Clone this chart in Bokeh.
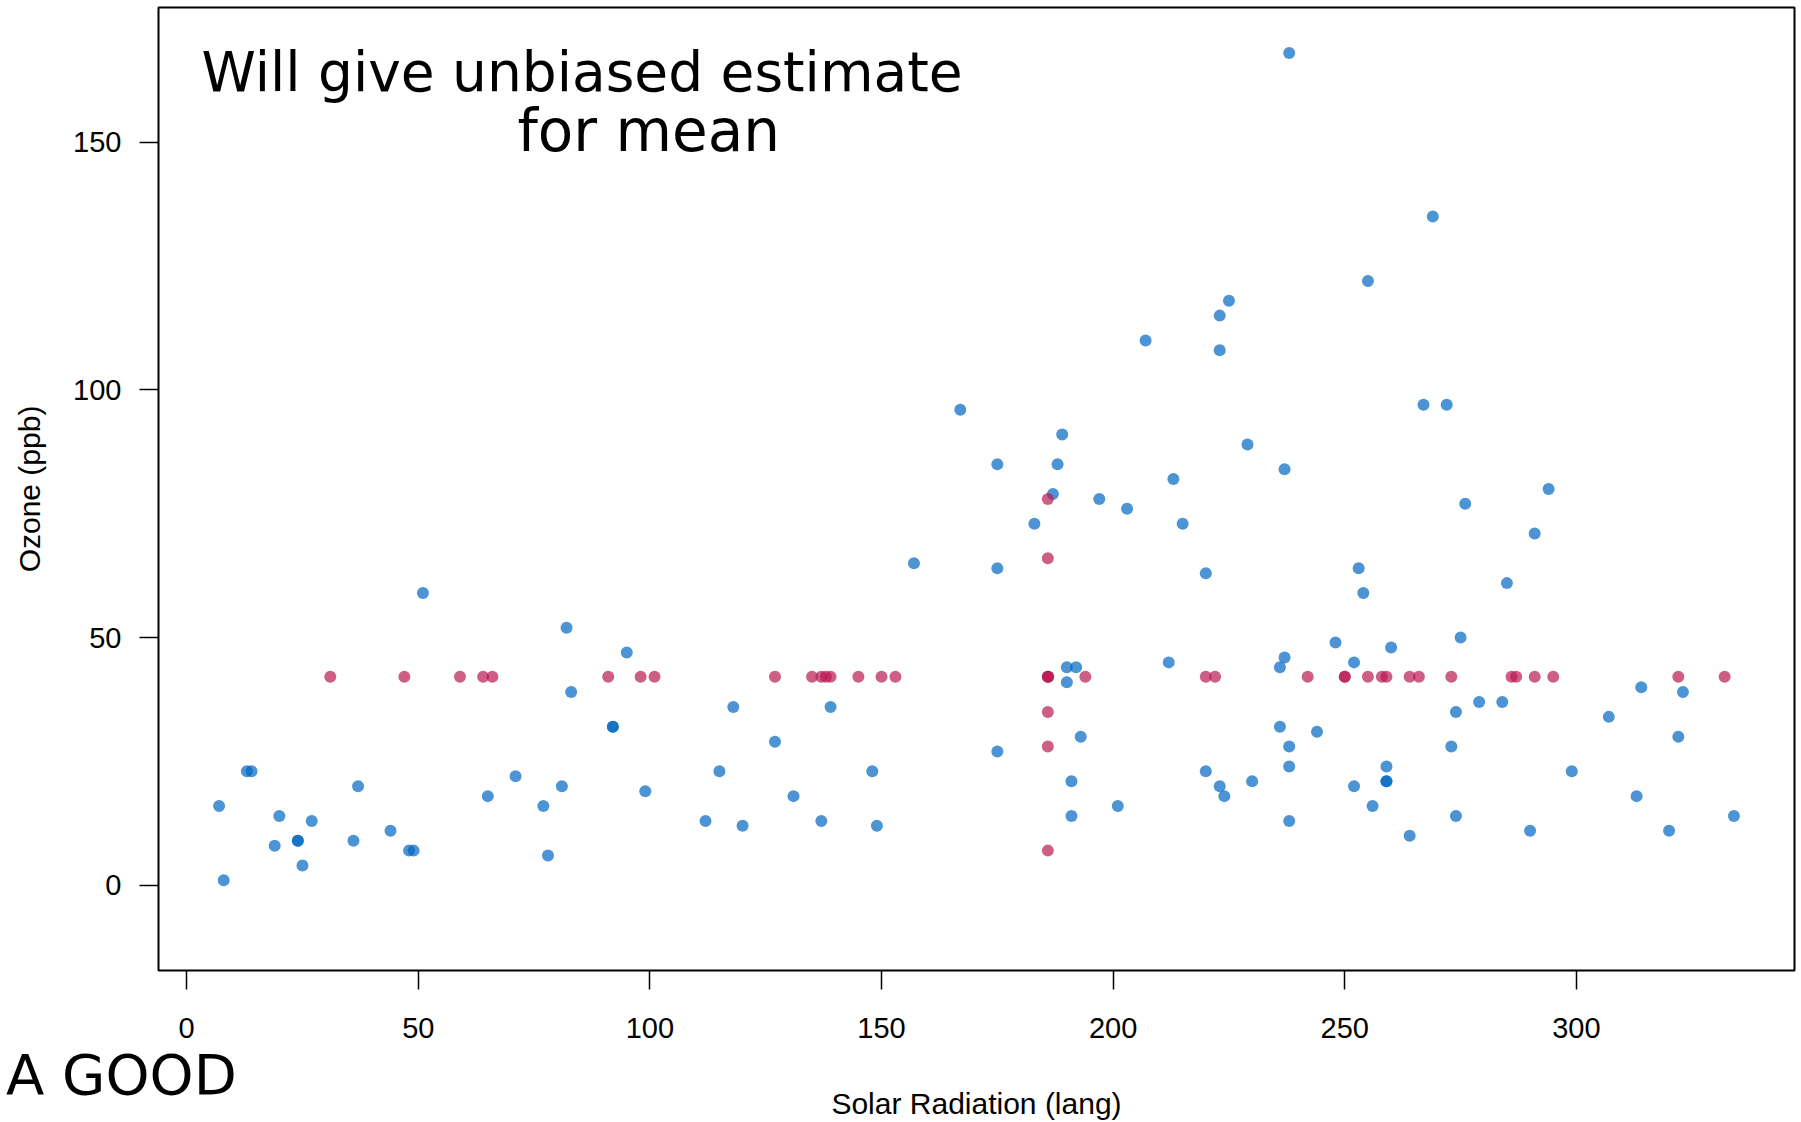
from bokeh.plotting import figure
from bokeh.models import Range1d, SingleIntervalTicker, Label, Div
from bokeh.layouts import column
from bokeh.embed import file_html
from bokeh.resources import INLINE

# Observed (complete) cases: Solar radiation (lang) and Ozone (ppb)
obs_solar = [190, 118, 149, 313, 299, 99, 19, 256, 290, 274, 65, 334, 307, 78, 322, 44, 8, 320, 25, 92,
             13, 252, 223, 279, 127, 291, 323, 148, 191, 284, 37, 120, 137, 269, 248, 236, 175, 314, 276, 267,
             272, 175, 264, 175, 48, 260, 274, 285, 187, 220, 7, 294, 223, 81, 82, 213, 275, 253, 254, 83,
             24, 77, 255, 229, 207, 192, 273, 157, 71, 51, 115, 244, 190, 259, 36, 212, 238, 215, 203, 225,
             237, 188, 167, 197, 183, 189, 95, 92, 252, 220, 230, 259, 236, 259, 238, 24, 112, 237, 224, 27,
             238, 201, 238, 14, 139, 49, 20, 193, 191, 131, 223]
obs_ozone = [41, 36, 12, 18, 23, 19, 8, 16, 11, 14, 18, 14, 34, 6, 30, 11, 1, 11, 4, 32,
             23, 45, 115, 37, 29, 71, 39, 23, 21, 37, 20, 12, 13, 135, 49, 32, 64, 40, 77, 97,
             97, 85, 10, 27, 7, 48, 35, 61, 79, 63, 16, 80, 108, 20, 52, 82, 50, 64, 59, 39,
             9, 16, 122, 89, 110, 44, 28, 65, 22, 59, 23, 31, 44, 21, 9, 45, 168, 73, 76, 118,
             84, 85, 96, 78, 73, 91, 47, 32, 20, 23, 21, 24, 44, 21, 28, 9, 13, 46, 18, 13,
             24, 16, 13, 23, 36, 7, 14, 30, 14, 18, 20]

# Cases with a missing value, filled with the mean (Ozone 42.1, Solar 185.9)
imp_solar = [185.9, 185.9, 194, 185.9, 66, 266, 185.9, 286, 287, 242, 186, 220, 264, 273, 259, 250, 332, 322,
             150, 59, 91, 250, 135, 127, 47, 98, 31, 138, 101, 139, 291, 258, 295, 185.9, 185.9, 185.9,
             222, 137, 64, 255, 153, 145]
imp_ozone = [42.1, 28, 42.1, 7, 42.1, 42.1, 42.1, 42.1, 42.1, 42.1, 42.1, 42.1, 42.1, 42.1, 42.1, 42.1, 42.1, 42.1,
             42.1, 42.1, 42.1, 42.1, 42.1, 42.1, 42.1, 42.1, 42.1, 42.1, 42.1, 42.1, 42.1, 42.1, 42.1, 78, 35, 66,
             42.1, 42.1, 42.1, 42.1, 42.1, 42.1]

x_label = "Solar Radiation (lang)"
y_label = "Ozone (ppb)"
FONT = "Liberation Sans"

p = figure(width=1796, height=1122, output_backend="svg", toolbar_location=None,
           x_range=Range1d(-6.08, 347.08), y_range=Range1d(-17.2, 177.2),
           min_border_left=158, min_border_right=2, min_border_top=7, min_border_bottom=151)
p.background_fill_color = "white"
p.border_fill_color = "white"
p.outline_line_color = "black"
p.outline_line_width = 2
p.xgrid.visible = False
p.ygrid.visible = False

p.scatter(obs_solar, obs_ozone, size=12, fill_color="#0066C2", fill_alpha=0.7, line_color=None)
p.scatter(imp_solar, imp_ozone, size=12, fill_color="#B81A52", fill_alpha=0.7, line_color=None)

for ax in (p.xaxis[0], p.yaxis[0]):
    ax.ticker = SingleIntervalTicker(interval=50, num_minor_ticks=0)
    ax.axis_line_color = None
    ax.major_tick_line_color = "black"
    ax.major_tick_line_width = 1.5
    ax.major_tick_out = 19
    ax.major_tick_in = 0
    ax.minor_tick_line_color = None
    ax.major_label_text_font = FONT
    ax.major_label_text_font_size = "29px"
    ax.major_label_text_color = "black"
    ax.axis_label_text_font = FONT
    ax.axis_label_text_font_size = "30px"
    ax.axis_label_text_font_style = "normal"
    ax.axis_label_text_color = "black"

p.xaxis.axis_label = x_label
p.yaxis.axis_label = y_label
p.xaxis.major_label_standoff = 28
p.xaxis.axis_label_standoff = 46
p.yaxis.major_label_standoff = 18
p.yaxis.major_label_orientation = "horizontal"
p.yaxis.axis_label_standoff = 24

hand = dict(text_font="DejaVu Sans", text_font_style="normal", text_color="black",
            text_baseline="alphabetic", text_align="left")
p.add_layout(Label(x=3.2, y=164.2, text="Will give unbiased estimate", text_font_size="55px", **hand))
p.add_layout(Label(x=71.4, y=152.3, text="for mean", text_font_size="58px", **hand))

note = Div(text="A GOOD", width=280, height=56, margin=(-75, 0, 0, 6),
           styles={"font-family": "DejaVu Sans", "font-size": "56px", "line-height": "1",
                   "color": "black", "white-space": "nowrap"})

layout = column(p, note, spacing=0)
open("out.html", "w").write(file_html(layout, INLINE))
